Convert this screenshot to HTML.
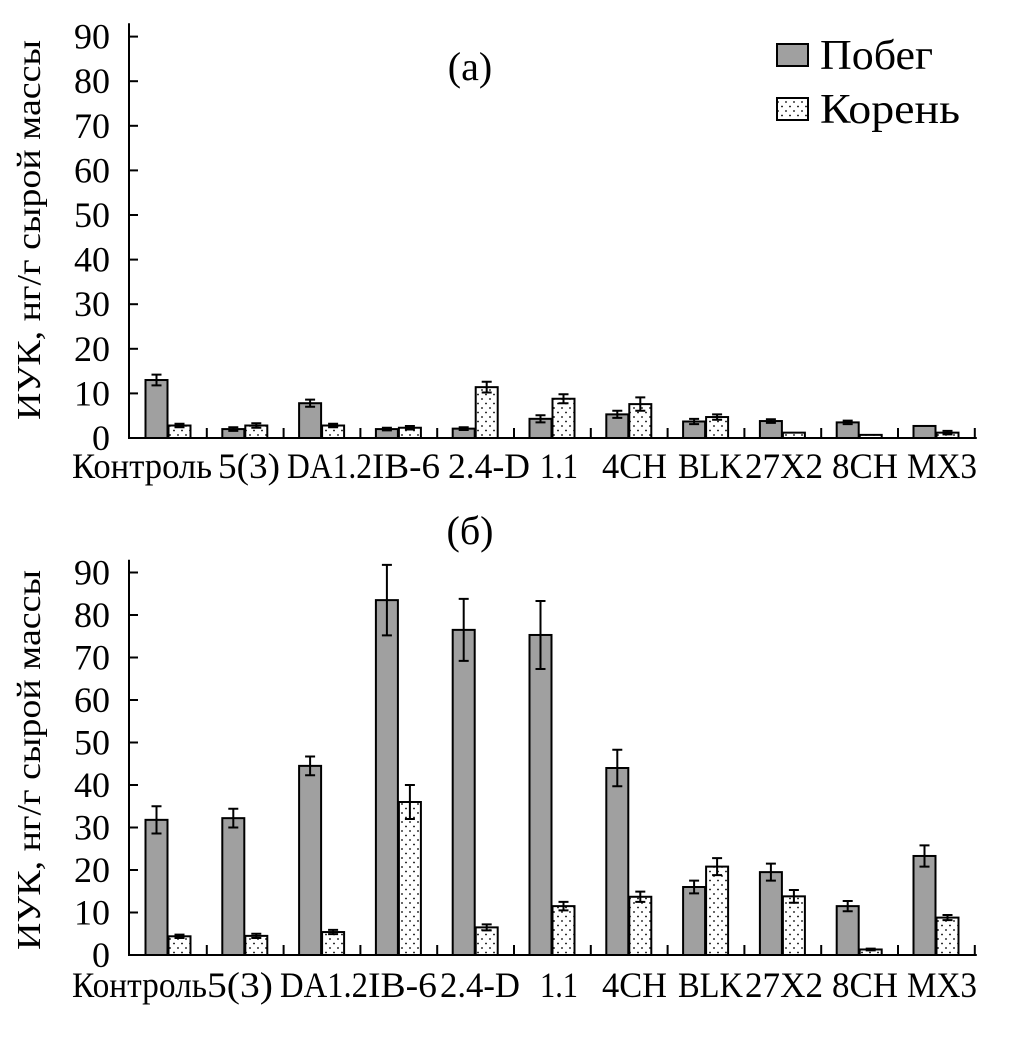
<!DOCTYPE html>
<html><head><meta charset="utf-8"><style>
body{margin:0;background:#fff}
svg text{font-family:"Liberation Serif",serif;fill:#000}
</style></head><body>
<svg id="chart" width="1010" height="1036" xmlns="http://www.w3.org/2000/svg">
<defs>
<pattern id="dots" width="8" height="9" patternUnits="userSpaceOnUse">
<rect width="8" height="9" fill="#fff"/><circle cx="2" cy="3" r="0.9" fill="#000"/><circle cx="6" cy="7.5" r="0.9" fill="#000"/>
</pattern>
</defs>
<g id="legend">
<rect x="777" y="44" width="31" height="22" fill="#a0a0a0" stroke="#000" stroke-width="2"/>
<text x="820" y="69" font-size="42" textLength="113" lengthAdjust="spacingAndGlyphs">Побег</text>
<rect x="777" y="98" width="31" height="22" fill="url(#dots)" stroke="#000" stroke-width="2"/>
<text x="820" y="123" font-size="42" textLength="140" lengthAdjust="spacingAndGlyphs">Корень</text>
</g>
<text x="470" y="80" font-size="40" text-anchor="middle">(а)</text>
<text x="470" y="544" font-size="40" text-anchor="middle">(б)</text>
</svg>
<script>
const categories=["Контроль","5(3)","DA1.2","IB-6","2.4-D","1.1","4CH","BLK","27X2","8CH","MX3"];
const labelStartTop=[72,218,287,372,448,540,602,678,745,832,907];
const labelStartBot=[72,207,280,368,440,540,602,678,745,832,907];
const labelWidth=[140,62,85,68,82,38,65,65,78,66,70];
const labelWidthBot=[135,66,88,69,80,38,65,65,78,66,70];
const shootA=[13,2,7.8,2,2.1,4.3,5.3,3.7,3.8,3.5,2.7];
const shootAErr=[1.2,0.4,0.8,0.3,0.3,0.8,0.8,0.6,0.4,0.4,0];
const rootA=[2.8,2.8,2.8,2.3,11.4,8.8,7.6,4.7,1.2,0.7,1.2];
const rootAErr=[0.4,0.5,0.4,0.4,1.2,1,1.5,0.6,0,0,0.4];
const shootB=[31.8,32.2,44.5,83.5,76.5,75.3,44,16,19.5,11.5,23.3];
const shootBErr=[3.2,2.2,2.2,8.3,7.3,8,4.3,1.5,2,1.2,2.5];
const rootB=[4.4,4.5,5.4,36,6.5,11.5,13.7,20.8,13.8,1.3,8.8];
const rootBErr=[0.4,0.5,0.5,4,0.7,1,1.2,2,1.5,0.2,0.6];
const yTicks=[0,10,20,30,40,50,60,70,80,90];

const svg=document.getElementById('chart');
const NS="http://www.w3.org/2000/svg";
function mk(tag,attrs,parent){const e=document.createElementNS(NS,tag);for(const k in attrs)e.setAttribute(k,attrs[k]);(parent||svg).appendChild(e);return e;}
const X0=130,CW=76.8;
function panel(id,base,perTen,shoot,shootErr,root,rootErr,labelX,labelW,labelY,titleOff,titleLen){
  const g=mk('g',{});
  
  
  const y=v=>base-v*perTen/10;
  const ax=mk('line',{x1:X0-1,y1:y(93),x2:X0-1,y2:base+1,stroke:'#000','stroke-width':2},g);
  
  
  const bx=mk('line',{x1:X0-2,y1:base,x2:X0+CW*categories.length+2,y2:base,stroke:'#000','stroke-width':2},g);
  
  
  yTicks.forEach(t=>{
    mk('line',{x1:X0-1,x2:X0+8,y1:y(t),y2:y(t),stroke:'#000','stroke-width':2},g);
    const tx=mk('text',{x:110,y:y(t)+12,'font-size':36,'text-anchor':'end'},g);
    tx.textContent=t;
    
    
  });
  categories.forEach((c,i)=>{
    const cx=X0+CW*(i+1);
    mk('line',{x1:cx,x2:cx,y1:base,y2:base-10,stroke:'#000','stroke-width':2},g);
    const bl=X0+CW*i+15.5;
    const b1=mk('rect',{x:bl,y:y(shoot[i]),width:22,height:base-y(shoot[i]),fill:'#a0a0a0',stroke:'#000','stroke-width':2},g);
    
    
    const b2=mk('rect',{x:bl+23,y:y(root[i]),width:22,height:base-y(root[i]),fill:'url(#dots)',stroke:'#000','stroke-width':2},g);
    
    
    [[bl+11,shoot[i],shootErr[i]],[bl+34,root[i],rootErr[i]]].forEach(([ex,v,e])=>{
      if(e<=0)return;
      const eb=mk('path',{d:`M${ex},${y(v+e)}V${y(v-e)}M${ex-5},${y(v+e)}H${ex+5}M${ex-5},${y(v-e)}H${ex+5}`,stroke:'#000','stroke-width':2,fill:'none'},g);
      
      
    });
    const lt=mk('text',{x:labelX[i],y:labelY,'font-size':36,textLength:labelW[i],lengthAdjust:'spacingAndGlyphs'},g);
    lt.textContent=c;
    
    
  });
  const yt=mk('text',{transform:`translate(40,${base-titleOff}) rotate(-90)`,'font-size':34,'text-anchor':'middle',textLength:titleLen,lengthAdjust:'spacingAndGlyphs'},g);
  yt.textContent='ИУК, нг/г сырой массы';
  
  
}
panel('panel-a',438,44.6,shootA,shootAErr,rootA,rootAErr,labelStartTop,labelWidth,478,208,380);
panel('panel-b',955,42.5,shootB,shootBErr,rootB,rootBErr,labelStartBot,labelWidthBot,997,195,380);
</script>
</body></html>
